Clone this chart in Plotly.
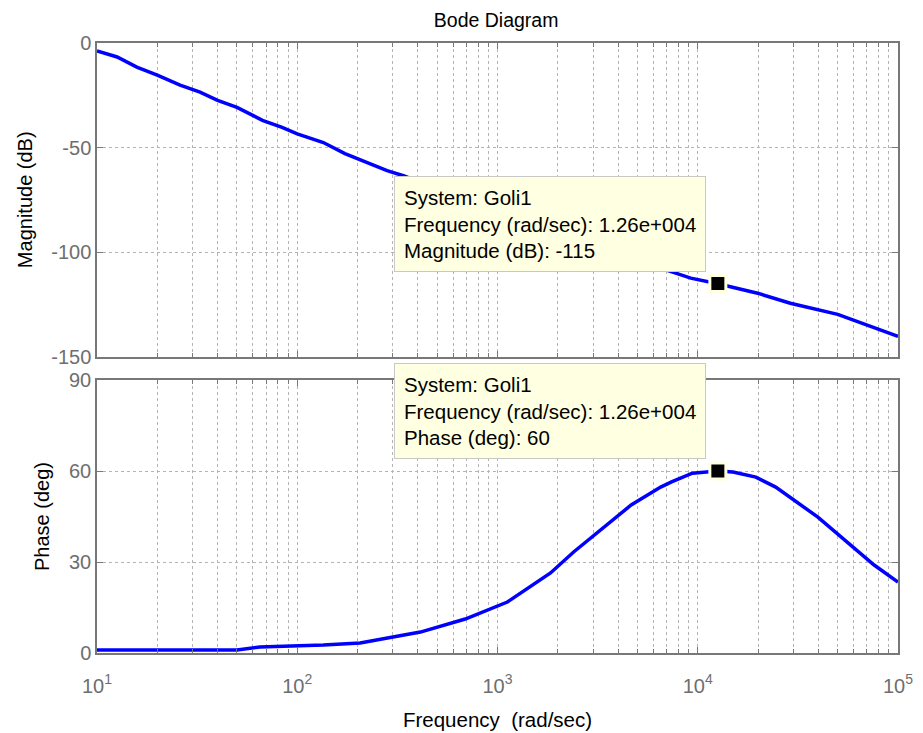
import plotly.graph_objects as go
import numpy as np

# ---------------- data ----------------
freq_mag = [10, 12.6, 15.8, 20, 26, 32.7, 40, 50, 67, 84, 100, 135, 173, 213, 281, 339,
            1000, 3000, 9226, 12600, 19900, 29000, 50000, 100000]
mag_db = [-3.8, -6.7, -11.5, -15.4, -20.2, -23.5, -27.4, -30.8, -37.0, -40.4, -43.5, -47.6,
          -52.9, -56.3, -61.1, -63.5, -81.0, -97.0, -112.5, -115.2, -119.7, -124.5, -129.8, -140.4]

freq_phase = [10, 50, 65, 95, 135, 206, 300, 412, 690, 1120, 1840, 2400, 4650, 6530, 7400,
              9400, 12600, 15000, 19500, 24500, 39800, 76000, 100000]
phase_deg = [1.0, 1.0, 2.0, 2.3, 2.6, 3.3, 5.3, 6.9, 11.2, 16.8, 26.4, 33.3, 48.8, 54.7, 56.4,
             59.3, 60.0, 59.7, 58.0, 54.7, 44.8, 29.0, 23.4]

marker_freq = 12600
marker_mag = -115
marker_phase = 60

x_tickvals = [10, 100, 1000, 10000, 100000]
x_ticktext = ["10<sup>1</sup>", "10<sup>2</sup>", "10<sup>3</sup>", "10<sup>4</sup>", "10<sup>5</sup>"]
x_minor = [m * 10 ** k for k in range(1, 5) for m in range(2, 10)]
mag_ticks = [-150, -100, -50, 0]
mag_ticktext = ["-150", "-100", "-50", "0"]
phase_ticks = [0, 30, 60, 90]
phase_ticktext = ["0", "30", "60", "90"]

FONT = "Liberation Sans, Arial, Helvetica, sans-serif"
TICKC = "#6e6e6e"
GRIDC = "#b4b4b4"
LINEC = "#787878"
BOXBG = "#FFFFE1"

fig = go.Figure()
fig.add_trace(go.Scatter(x=freq_mag, y=mag_db, mode="lines",
                         line=dict(color="#0000FF", width=3.5), xaxis="x", yaxis="y",
                         showlegend=False, hoverinfo="skip"))
fig.add_trace(go.Scatter(x=freq_phase, y=phase_deg, mode="lines",
                         line=dict(color="#0000FF", width=3.5), xaxis="x2", yaxis="y2",
                         showlegend=False, hoverinfo="skip"))
fig.add_trace(go.Scatter(x=[marker_freq], y=[marker_mag], mode="markers",
                         marker=dict(symbol="square", size=16, color="black",
                                     line=dict(color=BOXBG, width=3)),
                         xaxis="x", yaxis="y", showlegend=False, hoverinfo="skip"))
fig.add_trace(go.Scatter(x=[marker_freq], y=[marker_phase], mode="markers",
                         marker=dict(symbol="square", size=16, color="black",
                                     line=dict(color=BOXBG, width=3)),
                         xaxis="x2", yaxis="y2", showlegend=False, hoverinfo="skip"))

xcommon = dict(type="log", range=[1, 5], tickvals=x_tickvals, ticktext=x_ticktext,
               showgrid=True, gridcolor=GRIDC, griddash="dot", gridwidth=1,
               showline=True, linecolor=LINEC, linewidth=1.5, mirror="ticks",
               ticks="inside", ticklen=6, tickcolor=LINEC, automargin=False,
               minor=dict(tickvals=x_minor, showgrid=True, gridcolor=GRIDC, griddash="dot",
                          gridwidth=1, ticks="inside", ticklen=4, tickcolor=LINEC),
               zeroline=False, tickfont=dict(family=FONT, size=20, color=TICKC))
ycommon = dict(showgrid=True, gridcolor=GRIDC, griddash="dot", gridwidth=1,
               showline=True, linecolor=LINEC, linewidth=1.5, mirror="ticks",
               ticks="inside", ticklen=6, tickcolor=LINEC, zeroline=False, automargin=False,
               tickfont=dict(family=FONT, size=20, color=TICKC))

fig.update_layout(
    width=923, height=733,
    margin=dict(l=97, r=25, t=43, b=80),
    paper_bgcolor="white", plot_bgcolor="white",
    font=dict(family=FONT, size=18, color="black"),
    title=dict(text="Bode Diagram", x=0.5375, xanchor="center", y=0.972, yanchor="middle",
               yref="container", font=dict(family=FONT, size=19.5, color="black")),
    xaxis=dict(**xcommon, anchor="y", domain=[0, 1], showticklabels=False, matches="x2"),
    xaxis2=dict(**xcommon, anchor="y2", domain=[0, 1], ticklabelstandoff=14,
                title=dict(text="Frequency\u00a0\u00a0(rad/sec)", standoff=17,
                           font=dict(family=FONT, size=20.5, color="black"))),
    yaxis=dict(**ycommon, anchor="x", domain=[0.486, 1], range=[-150, 0],
               tickvals=mag_ticks, ticktext=mag_ticktext,
               title=dict(text="Magnitude (dB)", standoff=13,
                          font=dict(family=FONT, size=20, color="black"))),
    yaxis2=dict(**ycommon, anchor="x2", domain=[0, 0.4475], range=[0, 90],
                tickvals=phase_ticks, ticktext=phase_ticktext,
                title=dict(text="Phase (deg)", standoff=14,
                           font=dict(family=FONT, size=20, color="black"))),
)

ann_font = dict(family=FONT, size=20.5, color="black")
fig.add_annotation(x=np.log10(marker_freq), y=marker_mag, xref="x", yref="y",
                   text=f"System: Goli1<br>Frequency (rad/sec): 1.26e+004<br>Magnitude (dB): {marker_mag}",
                   showarrow=False, xanchor="right", yanchor="bottom", xshift=-12, yshift=11,
                   align="left", bgcolor=BOXBG, bordercolor="#c8c8c8", borderwidth=1,
                   borderpad=9, font=ann_font)
fig.add_annotation(x=np.log10(marker_freq), y=marker_phase, xref="x2", yref="y2",
                   text=f"System: Goli1<br>Frequency (rad/sec): 1.26e+004<br>Phase (deg): {marker_phase}",
                   showarrow=False, xanchor="right", yanchor="bottom", xshift=-12, yshift=12,
                   align="left", bgcolor=BOXBG, bordercolor="#c8c8c8", borderwidth=1,
                   borderpad=9, font=ann_font)

fig.write_html("out.html")
